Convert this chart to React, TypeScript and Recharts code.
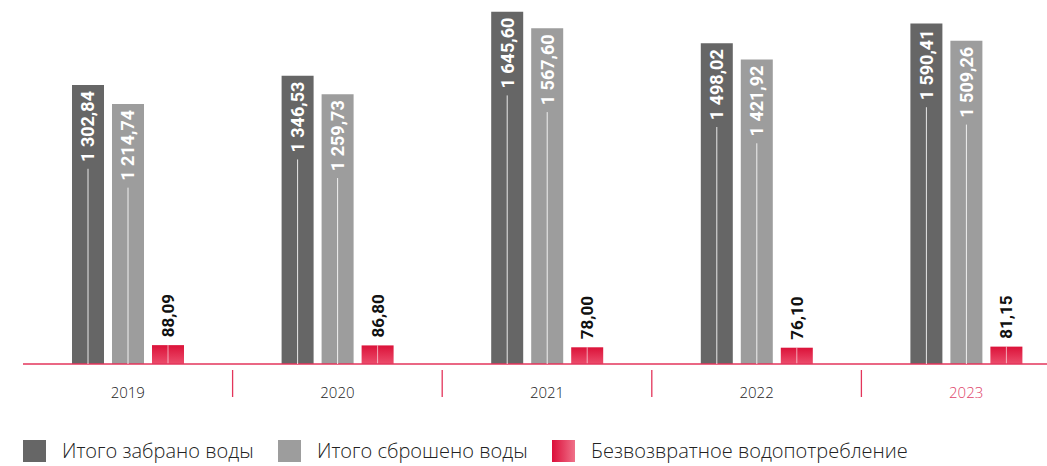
import React from 'react';
import { BarChart, Bar, XAxis, YAxis, LabelList, Legend } from 'recharts';

// Water balance, thousand m³
const YEARS = ['2019', '2020', '2021', '2022', '2023'];
const WITHDRAWN = [1302.84, 1346.53, 1645.6, 1498.02, 1590.41];
const DISCHARGED = [1214.74, 1259.73, 1567.6, 1421.92, 1509.26];
const CONSUMED = [88.09, 86.8, 78.0, 76.1, 81.15];

const SERIES = [
  { key: 'withdrawn', name: 'Итого забрано воды', color: '#666666' },
  { key: 'discharged', name: 'Итого сброшено воды', color: '#9d9d9d' },
  { key: 'consumed', name: 'Безвозвратное водопотребление', color: 'url(#legendRed)' },
];
// legend item slots (square left edges at 23 / 278 / 552)
const LEGEND_SLOTS = [255, 274, 420];

const data = YEARS.map((year, i) => ({
  year,
  withdrawn: WITHDRAWN[i],
  discharged: DISCHARGED[i],
  consumed: CONSUMED[i],
}));

const RED = '#e3355b';
const FONT = 'Roboto, "Noto Sans", sans-serif';
const TEXT_FONT = '"Open Sans", "Noto Sans", sans-serif';

const fmt = (v: number) => {
  const [int, dec] = v.toFixed(2).split('.');
  const grouped = int.replace(/\B(?=(\d{3})+(?!\d))/g, ' ');
  return `${grouped},${dec}`;
};

// rough text length for the rotated bold labels
const textLen = (s: string, size: number) =>
  s.split('').reduce((acc, ch) => acc + (/\d/.test(ch) ? 0.5625 : 0.25) * size, 0);

const InsideLabel = (props: any) => {
  const { x, y, width, height, value } = props;
  const cx = x + width / 2;
  const top = y + 6;
  const label = fmt(value);
  const len = textLen(label, 18);
  const lineStart = top + len + 8;
  return (
    <g>
      <text
        x={cx}
        y={top}
        transform={`rotate(-90 ${cx} ${top})`}
        textAnchor="end"
        dominantBaseline="central"
        fill="#ffffff"
        fontFamily={FONT}
        fontWeight={700}
        fontSize={18}
      >
        {label}
      </text>
      <line x1={cx} x2={cx} y1={lineStart} y2={y + height} stroke="#ffffff" strokeOpacity={0.85} strokeWidth={1} />
    </g>
  );
};

const AboveLabel = (props: any) => {
  const { x, y, width, value } = props;
  const cx = x + width / 2;
  const base = y - 8;
  return (
    <text
      x={cx}
      y={base}
      transform={`rotate(-90 ${cx} ${base})`}
      textAnchor="start"
      dominantBaseline="central"
      fill="#111111"
      fontFamily={FONT}
      fontWeight={700}
      fontSize={17}
    >
      {fmt(value)}
    </text>
  );
};

const RedBar = (props: any) => {
  const { x, y, width, height } = props;
  const cx = x + width / 2;
  return (
    <g>
      <rect x={x} y={y} width={width} height={height} fill="url(#redGrad)" />
      <line x1={cx} x2={cx} y1={y} y2={y + height} stroke="#ffffff" strokeOpacity={0.6} strokeWidth={1} />
    </g>
  );
};

const YearTick = (props: any) => {
  const { x, y, payload, index } = props;
  const half = payload.offset || 104.8;
  const last = payload.value === YEARS[YEARS.length - 1];
  return (
    <g>
      {index > 0 && (
        <line x1={x - half} x2={x - half} y1={y + 6} y2={y + 33} stroke={RED} strokeWidth={1.3} />
      )}
      <text
        x={x}
        y={y + 28}
        textAnchor="middle"
        dominantBaseline="central"
        fill={last ? '#e0456a' : '#222222'}
        fontFamily={TEXT_FONT}
        fontWeight={300}
        fontSize={15}
      >
        {payload.value}
      </text>
    </g>
  );
};

const LegendContent = () => (
  <div style={{ display: 'flex', alignItems: 'center', paddingLeft: 23, height: 22 }}>
    {SERIES.map((s, i) => (
      <div key={s.key} style={{ display: 'flex', alignItems: 'center', width: LEGEND_SLOTS[i], height: 22 }}>
        <span
          style={{
            display: 'inline-block',
            width: 23,
            height: 22,
            marginRight: 16,
            flex: 'none',
            background:
              s.key === 'consumed' ? 'linear-gradient(to right, #dc0e3a, #ef7189)' : s.color,
          }}
        />
        <span
          style={{
            fontFamily: TEXT_FONT,
            fontSize: 20,
            lineHeight: '22px',
            color: '#222222',
            fontWeight: 300,
            whiteSpace: 'nowrap',
          }}
        >
          {s.name}
        </span>
      </div>
    ))}
  </div>
);

export default function App() {
  return (
    <div
      style={{
        position: 'fixed',
        left: 0,
        top: 0,
        width: 1047,
        height: 466,
        overflow: 'hidden',
        background: '#ffffff',
      }}
    >
      <BarChart
        width={1071}
        height={466}
        data={data}
        margin={{ top: 0, right: 0, bottom: 0, left: 23 }}
        barSize={32}
        barGap={8}
      >
        <defs>
          <linearGradient id="redGrad" x1="0" y1="0" x2="0" y2="1">
            <stop offset="0%" stopColor="#db1239" />
            <stop offset="100%" stopColor="#ec4d6c" />
          </linearGradient>
        </defs>
        <XAxis
          dataKey="year"
          height={102}
          axisLine={{ stroke: RED, strokeWidth: 1.5 }}
          tickLine={false}
          tickSize={0}
          tickMargin={0}
          tick={<YearTick />}
          interval={0}
        />
        <YAxis hide domain={[0, 1700]} />
        <Legend
          verticalAlign="middle"
          align="center"
          layout="horizontal"
          content={<LegendContent />}
          wrapperStyle={{ top: 440, left: 0, width: 1047, height: 24 }}
        />
        <Bar dataKey="withdrawn" name={SERIES[0].name} fill="#666666" isAnimationActive={false}>
          <LabelList dataKey="withdrawn" content={<InsideLabel />} />
        </Bar>
        <Bar dataKey="discharged" name={SERIES[1].name} fill="#9d9d9d" isAnimationActive={false}>
          <LabelList dataKey="discharged" content={<InsideLabel />} />
        </Bar>
        <Bar dataKey="consumed" name={SERIES[2].name} fill="#e0224a" shape={<RedBar />} isAnimationActive={false}>
          <LabelList dataKey="consumed" content={<AboveLabel />} />
        </Bar>
      </BarChart>
    </div>
  );
}
